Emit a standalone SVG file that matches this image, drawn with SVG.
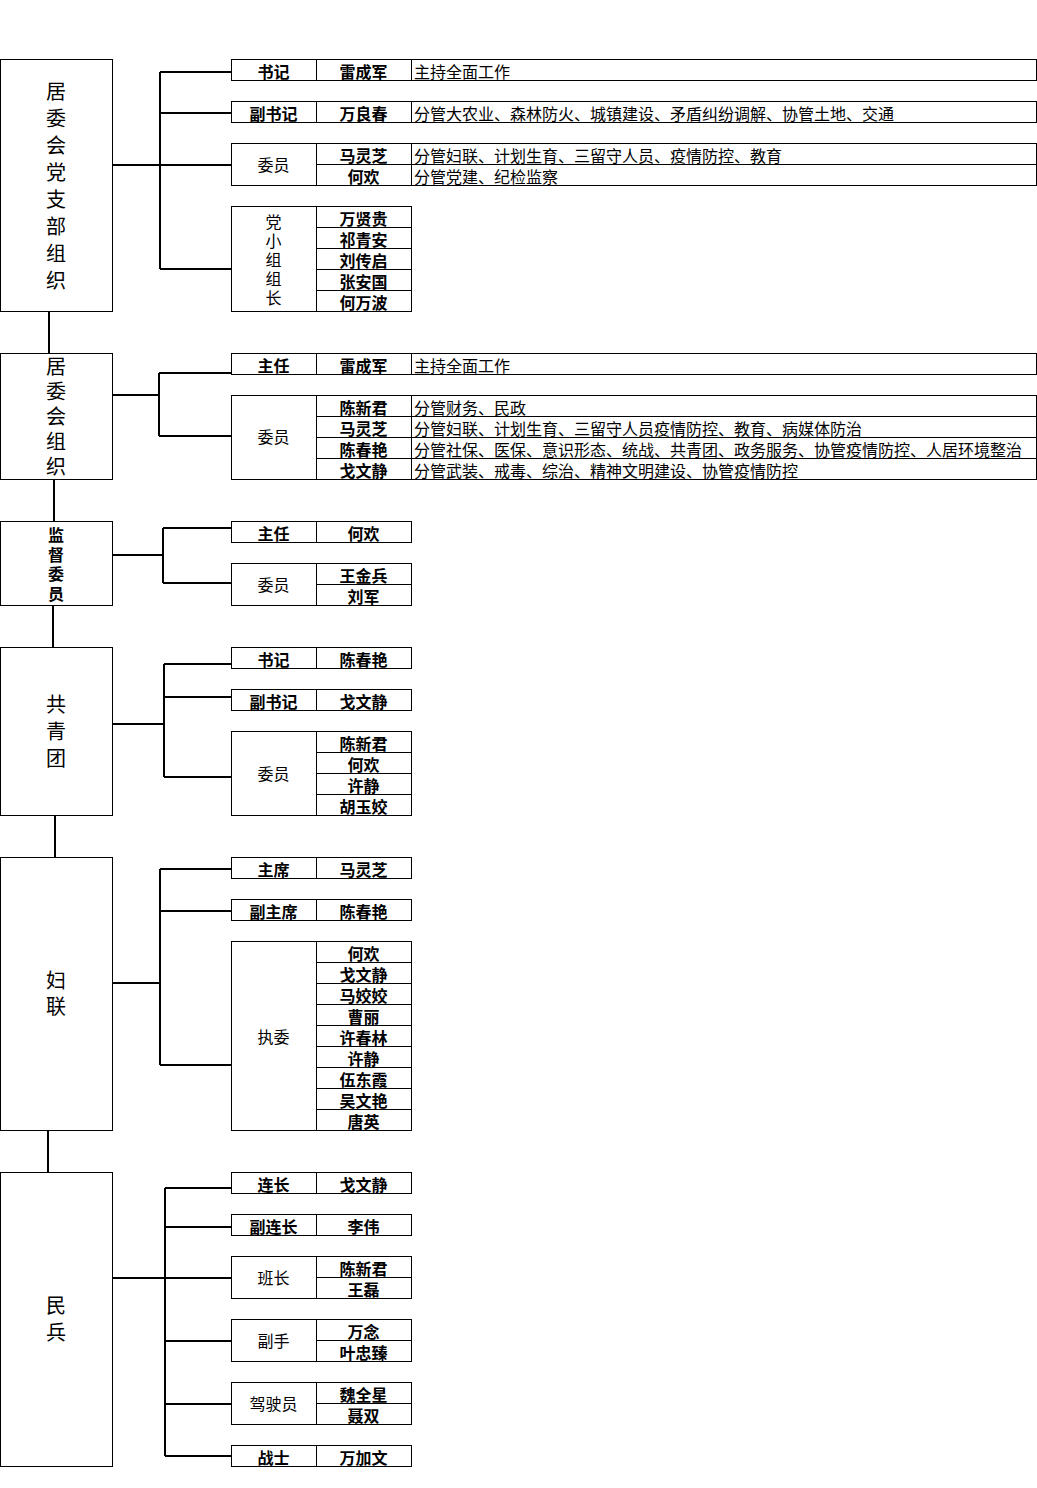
<svg xmlns="http://www.w3.org/2000/svg" width="1037" height="1488" viewBox="0 0 1037 1488">
<style>
.bg{fill:#fff}
.box{fill:#fff;stroke:#000;stroke-width:1}
.ln{stroke:#000;stroke-width:1;fill:none}
.c{stroke:#000;stroke-width:2;fill:none}
text{font-family:"Liberation Sans","Noto Sans CJK SC","Noto Sans CJK JP",sans-serif;font-size:16px;fill:#000}
.m{text-anchor:middle}
.b{font-weight:bold}
.big{font-size:20px}
</style>
<rect class="bg" x="0" y="0" width="1037" height="1488"/>

<g id="connectors">
<line class="c" x1="49" y1="311" x2="49" y2="353"/>
<line class="c" x1="54" y1="479" x2="54" y2="521"/>
<line class="c" x1="53" y1="605" x2="53" y2="647"/>
<line class="c" x1="55" y1="815" x2="55" y2="857"/>
<line class="c" x1="48" y1="1130" x2="48" y2="1172"/>
<path class="c" d="M112 165H231M160 72V269M160 72H231M160 113H231M160 269H231"/>
<path class="c" d="M112 395H159M159 373V436M159 373H231M159 436H231"/>
<path class="c" d="M112 555H163M163 528V583M163 528H231M163 583H231"/>
<path class="c" d="M112 724H164M164 664V777M164 664H231M164 697H231M164 777H231"/>
<path class="c" d="M112 983H160M160 869V1065M160 869H231M160 911H231M160 1065H231"/>
<path class="c" d="M112 1278H231M165 1188V1456M165 1188H231M165 1227H231M165 1341H231M165 1404H231M165 1456H231"/>
</g>

<g id="node-party">
<rect class="box" x="0.5" y="59.5" width="112" height="252"/>
<text class="m big" x="56" y="99">居</text>
<text class="m big" x="56" y="126">委</text>
<text class="m big" x="56" y="153">会</text>
<text class="m big" x="56" y="180">党</text>
<text class="m big" x="56" y="207">支</text>
<text class="m big" x="56" y="234">部</text>
<text class="m big" x="56" y="261">组</text>
<text class="m big" x="56" y="288">织</text>
</g>
<g id="node-party-secretary">
<rect class="box" x="231.5" y="59.5" width="805" height="21"/>
<path class="ln" d="M316.5 59.5V80.5M411.5 59.5V80.5"/>
<text class="m b" x="273.5" y="77.5">书记</text>
<text class="m b" x="363.5" y="77.5">雷成军</text>
<text x="414" y="77.5">主持全面工作</text>
</g>
<g id="node-party-deputy">
<rect class="box" x="231.5" y="101.5" width="805" height="21"/>
<path class="ln" d="M316.5 101.5V122.5M411.5 101.5V122.5"/>
<text class="m b" x="273.5" y="119.5">副书记</text>
<text class="m b" x="363.5" y="119.5">万良春</text>
<text x="414" y="119.5">分管大农业、森林防火、城镇建设、矛盾纠纷调解、协管土地、交通</text>
</g>
<g id="node-party-members">
<rect class="box" x="231.5" y="143.5" width="805" height="42"/>
<path class="ln" d="M316.5 143.5V185.5M411.5 143.5V185.5M316.5 164.5H1036.5"/>
<text class="m" x="273.5" y="171">委员</text>
<text class="m b" x="363.5" y="161.5">马灵芝</text>
<text class="m b" x="363.5" y="182.5">何欢</text>
<text x="414" y="161.5">分管妇联、计划生育、三留守人员、疫情防控、教育</text>
<text x="414" y="182.5">分管党建、纪检监察</text>
</g>
<g id="node-party-groups">
<rect class="box" x="231.5" y="206.5" width="180" height="105"/>
<path class="ln" d="M316.5 206.5V311.5M316.5 227.5H411.5M316.5 248.5H411.5M316.5 269.5H411.5M316.5 290.5H411.5"/>
<text class="m" x="273.5" y="228">党</text>
<text class="m" x="273.5" y="247">小</text>
<text class="m" x="273.5" y="266">组</text>
<text class="m" x="273.5" y="285">组</text>
<text class="m" x="273.5" y="304">长</text>
<text class="m b" x="363.5" y="224.5">万贤贵</text>
<text class="m b" x="363.5" y="245.5">祁青安</text>
<text class="m b" x="363.5" y="266.5">刘传启</text>
<text class="m b" x="363.5" y="287.5">张安国</text>
<text class="m b" x="363.5" y="308.5">何万波</text>
</g>

<g id="node-committee">
<rect class="box" x="0.5" y="353.5" width="112" height="126"/>
<text class="m big" x="56" y="374">居</text>
<text class="m big" x="56" y="399">委</text>
<text class="m big" x="56" y="424">会</text>
<text class="m big" x="56" y="449">组</text>
<text class="m big" x="56" y="474">织</text>
</g>
<g id="node-committee-director">
<rect class="box" x="231.5" y="353.5" width="805" height="21"/>
<path class="ln" d="M316.5 353.5V374.5M411.5 353.5V374.5"/>
<text class="m b" x="273.5" y="371.5">主任</text>
<text class="m b" x="363.5" y="371.5">雷成军</text>
<text x="414" y="371.5">主持全面工作</text>
</g>
<g id="node-committee-members">
<rect class="box" x="231.5" y="395.5" width="805" height="84"/>
<path class="ln" d="M316.5 395.5V479.5M411.5 395.5V479.5M316.5 416.5H1036.5M316.5 437.5H1036.5M316.5 458.5H1036.5"/>
<text class="m" x="273.5" y="443">委员</text>
<text class="m b" x="363.5" y="413.5">陈新君</text>
<text class="m b" x="363.5" y="434.5">马灵芝</text>
<text class="m b" x="363.5" y="455.5">陈春艳</text>
<text class="m b" x="363.5" y="476.5">戈文静</text>
<text x="414" y="413.5">分管财务、民政</text>
<text x="414" y="434.5">分管妇联、计划生育、三留守人员疫情防控、教育、病媒体防治</text>
<text x="414" y="455.5">分管社保、医保、意识形态、统战、共青团、政务服务、协管疫情防控、人居环境整治</text>
<text x="414" y="476.5">分管武装、戒毒、综治、精神文明建设、协管疫情防控</text>
</g>

<g id="node-supervision">
<rect class="box" x="0.5" y="521.5" width="112" height="84"/>
<text class="m b" x="56" y="541">监</text>
<text class="m b" x="56" y="561">督</text>
<text class="m b" x="56" y="580">委</text>
<text class="m b" x="56" y="600">员</text>
</g>
<g id="node-supervision-director">
<rect class="box" x="231.5" y="521.5" width="180" height="21"/>
<path class="ln" d="M316.5 521.5V542.5"/>
<text class="m b" x="273.5" y="539.5">主任</text>
<text class="m b" x="363.5" y="539.5">何欢</text>
</g>
<g id="node-supervision-members">
<rect class="box" x="231.5" y="563.5" width="180" height="42"/>
<path class="ln" d="M316.5 563.5V605.5M316.5 584.5H411.5"/>
<text class="m" x="273.5" y="591">委员</text>
<text class="m b" x="363.5" y="581.5">王金兵</text>
<text class="m b" x="363.5" y="602.5">刘军</text>
</g>

<g id="node-youth">
<rect class="box" x="0.5" y="647.5" width="112" height="168"/>
<text class="m big" x="56" y="712">共</text>
<text class="m big" x="56" y="739">青</text>
<text class="m big" x="56" y="766">团</text>
</g>
<g id="node-youth-secretary">
<rect class="box" x="231.5" y="647.5" width="180" height="21"/>
<path class="ln" d="M316.5 647.5V668.5"/>
<text class="m b" x="273.5" y="665.5">书记</text>
<text class="m b" x="363.5" y="665.5">陈春艳</text>
</g>
<g id="node-youth-deputy">
<rect class="box" x="231.5" y="689.5" width="180" height="21"/>
<path class="ln" d="M316.5 689.5V710.5"/>
<text class="m b" x="273.5" y="707.5">副书记</text>
<text class="m b" x="363.5" y="707.5">戈文静</text>
</g>
<g id="node-youth-members">
<rect class="box" x="231.5" y="731.5" width="180" height="84"/>
<path class="ln" d="M316.5 731.5V815.5M316.5 752.5H411.5M316.5 773.5H411.5M316.5 794.5H411.5"/>
<text class="m" x="273.5" y="780">委员</text>
<text class="m b" x="363.5" y="749.5">陈新君</text>
<text class="m b" x="363.5" y="770.5">何欢</text>
<text class="m b" x="363.5" y="791.5">许静</text>
<text class="m b" x="363.5" y="812.5">胡玉姣</text>
</g>

<g id="node-women">
<rect class="box" x="0.5" y="857.5" width="112" height="273"/>
<text class="m big" x="56" y="988">妇</text>
<text class="m big" x="56" y="1014">联</text>
</g>
<g id="node-women-chair">
<rect class="box" x="231.5" y="857.5" width="180" height="21"/>
<path class="ln" d="M316.5 857.5V878.5"/>
<text class="m b" x="273.5" y="875.5">主席</text>
<text class="m b" x="363.5" y="875.5">马灵芝</text>
</g>
<g id="node-women-vice">
<rect class="box" x="231.5" y="899.5" width="180" height="21"/>
<path class="ln" d="M316.5 899.5V920.5"/>
<text class="m b" x="273.5" y="917.5">副主席</text>
<text class="m b" x="363.5" y="917.5">陈春艳</text>
</g>
<g id="node-women-exec">
<rect class="box" x="231.5" y="941.5" width="180" height="189"/>
<path class="ln" d="M316.5 941.5V1130.5M316.5 962.5H411.5M316.5 983.5H411.5M316.5 1004.5H411.5M316.5 1025.5H411.5M316.5 1046.5H411.5M316.5 1067.5H411.5M316.5 1088.5H411.5M316.5 1109.5H411.5"/>
<text class="m" x="273.5" y="1043">执委</text>
<text class="m b" x="363.5" y="959.5">何欢</text>
<text class="m b" x="363.5" y="980.5">戈文静</text>
<text class="m b" x="363.5" y="1001.5">马姣姣</text>
<text class="m b" x="363.5" y="1022.5">曹丽</text>
<text class="m b" x="363.5" y="1043.5">许春林</text>
<text class="m b" x="363.5" y="1064.5">许静</text>
<text class="m b" x="363.5" y="1085.5">伍东霞</text>
<text class="m b" x="363.5" y="1106.5">吴文艳</text>
<text class="m b" x="363.5" y="1127.5">唐英</text>
</g>

<g id="node-militia">
<rect class="box" x="0.5" y="1172.5" width="112" height="294"/>
<text class="m big" x="56" y="1313">民</text>
<text class="m big" x="56" y="1340">兵</text>
</g>
<g id="node-militia-captain">
<rect class="box" x="231.5" y="1172.5" width="180" height="21"/>
<path class="ln" d="M316.5 1172.5V1193.5"/>
<text class="m b" x="273.5" y="1190.5">连长</text>
<text class="m b" x="363.5" y="1190.5">戈文静</text>
</g>
<g id="node-militia-vice">
<rect class="box" x="231.5" y="1214.5" width="180" height="21"/>
<path class="ln" d="M316.5 1214.5V1235.5"/>
<text class="m b" x="273.5" y="1232.5">副连长</text>
<text class="m b" x="363.5" y="1232.5">李伟</text>
</g>
<g id="node-militia-squad">
<rect class="box" x="231.5" y="1256.5" width="180" height="42"/>
<path class="ln" d="M316.5 1256.5V1298.5M316.5 1277.5H411.5"/>
<text class="m" x="273.5" y="1284">班长</text>
<text class="m b" x="363.5" y="1274.5">陈新君</text>
<text class="m b" x="363.5" y="1295.5">王磊</text>
</g>
<g id="node-militia-assistant">
<rect class="box" x="231.5" y="1319.5" width="180" height="42"/>
<path class="ln" d="M316.5 1319.5V1361.5M316.5 1340.5H411.5"/>
<text class="m" x="273.5" y="1347">副手</text>
<text class="m b" x="363.5" y="1337.5">万念</text>
<text class="m b" x="363.5" y="1358.5">叶忠臻</text>
</g>
<g id="node-militia-driver">
<rect class="box" x="231.5" y="1382.5" width="180" height="42"/>
<path class="ln" d="M316.5 1382.5V1424.5M316.5 1403.5H411.5"/>
<text class="m" x="273.5" y="1410">驾驶员</text>
<text class="m b" x="363.5" y="1400.5">魏全星</text>
<text class="m b" x="363.5" y="1421.5">聂双</text>
</g>
<g id="node-militia-soldier">
<rect class="box" x="231.5" y="1445.5" width="180" height="21"/>
<path class="ln" d="M316.5 1445.5V1466.5"/>
<text class="m b" x="273.5" y="1463.5">战士</text>
<text class="m b" x="363.5" y="1463.5">万加文</text>
</g>
</svg>
